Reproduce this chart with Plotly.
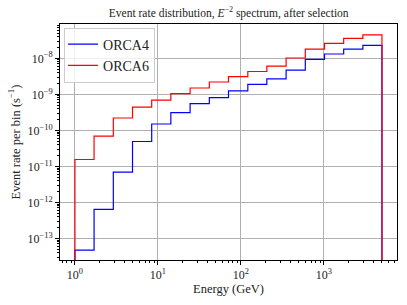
import plotly.graph_objects as go

# Bin edges (GeV)
bin_edges = [1.0, 1.70, 2.90, 4.94, 8.41, 14.3, 24.4, 41.6, 70.8, 121, 205, 350, 596, 1015, 1728, 2943, 5000]
# Event rates per bin (s^-1)
orca4 = [4.7e-14, 6.4e-13, 6.9e-12, 4.9e-11, 1.5e-10, 3.1e-10, 5.5e-10, 8.1e-10,
         1.25e-9, 1.9e-9, 2.7e-9, 4.7e-9, 9.4e-9, 1.32e-8, 1.8e-8, 2.3e-8]
orca6 = [1.55e-11, 6.9e-11, 2.2e-10, 4.4e-10, 6.9e-10, 1.05e-9, 1.5e-9, 2.2e-9,
         3.1e-9, 4.3e-9, 6.1e-9, 1.02e-8, 1.8e-8, 2.6e-8, 3.6e-8, 4.5e-8]
series_names = ["ORCA4", "ORCA6"]
series_colors = ["#0000ff", "#ff0000"]

x_ticks = [1, 10, 100, 1000]
x_ticktext = ["10<sup>0</sup>", "10<sup>1</sup>", "10<sup>2</sup>", "10<sup>3</sup>"]
y_ticks = [1e-13, 1e-12, 1e-11, 1e-10, 1e-9, 1e-8]
y_ticktext = ["10<sup>−13</sup>", "10<sup>−12</sup>", "10<sup>−11</sup>", "10<sup>−10</sup>",
              "10<sup>−9</sup>", "10<sup>−8</sup>"]

FLOOR = 1e-30
FONT = "'Liberation Serif', 'DejaVu Serif', serif"

def step_xy(edges, vals):
    xs = [edges[0]] + list(edges[:len(vals)]) + [edges[len(vals)]]
    ys = [FLOOR] + list(vals) + [FLOOR]
    return xs, ys

fig = go.Figure()
for name, vals, col in zip(series_names, [orca4, orca6], series_colors):
    xs, ys = step_xy(bin_edges, vals)
    fig.add_trace(go.Scatter(x=xs, y=ys, mode="lines", name=name,
                             line=dict(color=col, width=1.2, shape="hv")))

x_minor = [m * 10 ** d for d in range(-1, 4) for m in range(2, 10)]
y_minor = [m * 10.0 ** d for d in range(-14, -7) for m in range(2, 10)]

fig.update_layout(
    width=407, height=305,
    margin=dict(l=60, r=10, t=24, b=45),
    paper_bgcolor="white", plot_bgcolor="white",
    font=dict(family=FONT, size=12, color="#222"),
    title=dict(text="Event rate distribution, <i>E</i><sup>−2</sup> spectrum, after selection",
               x=0.562, xanchor="center", y=0.958, yanchor="middle",
               font=dict(size=11.5, family=FONT, color="#222")),
    showlegend=True,
    legend=dict(x=0.012, y=0.985, xanchor="left", yanchor="top",
                bgcolor="rgba(255,255,255,0.8)", bordercolor="#cccccc", borderwidth=1,
                font=dict(size=14, family=FONT, color="#222"),
                itemwidth=30, tracegroupgap=0, indentation=-2),
    xaxis=dict(type="log", range=[-0.18, 3.88], automargin=False,
               tickvals=x_ticks, ticktext=x_ticktext,
               ticks="outside", ticklen=4, tickwidth=1, tickcolor="black",
               showgrid=True, gridcolor="#b0b0b0", gridwidth=0.8,
               showline=True, linecolor="black", linewidth=1, mirror=True,
               zeroline=False,
               minor=dict(tickvals=x_minor, ticks="outside", ticklen=2, tickwidth=0.6,
                          tickcolor="black", showgrid=False),
               title=dict(text="Energy (GeV)", font=dict(size=12.5, family=FONT), standoff=2),
               tickfont=dict(size=12, family=FONT)),
    yaxis=dict(type="log", range=[-13.60, -7.047], automargin=False,
               tickvals=y_ticks, ticktext=y_ticktext,
               ticks="outside", ticklen=4, tickwidth=1, tickcolor="black",
               showgrid=True, gridcolor="#b0b0b0", gridwidth=0.8,
               showline=True, linecolor="black", linewidth=1, mirror=True,
               zeroline=False,
               minor=dict(tickvals=y_minor, ticks="outside", ticklen=2, tickwidth=0.6,
                          tickcolor="black", showgrid=False),
               title=dict(text="Event rate per bin (s<sup>−1</sup>)", font=dict(size=12.5, family=FONT), standoff=4),
               tickfont=dict(size=12, family=FONT)),
)

fig.write_html("out.html", config={"displayModeBar": False},
               post_script="document.body.style.margin='0';")
